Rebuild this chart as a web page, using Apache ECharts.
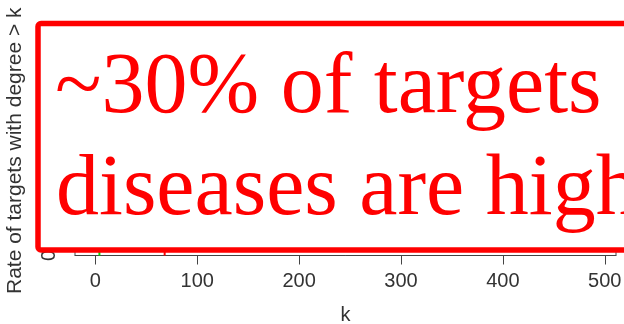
<!DOCTYPE html>
<html>
<head>
<meta charset="utf-8">
<script src="https://cdn.jsdelivr.net/npm/echarts@6/dist/echarts.min.js"></script>
<style>html,body{margin:0;padding:0;background:#fff}#c{width:624px;height:324px}</style>
</head>
<body>
<div id="c"></div>
<script>
// Data (estimated; most of the curves are hidden behind the overlay box)
var xTicks = [0, 100, 200, 300, 400, 500];
var greenK = [0, 1, 2, 3, 4, 4];
var greenRate = [1, 0.62, 0.41, 0.25, 0.25, 0];
var redK = [0, 5, 10, 20, 30, 45, 60, 68, 68];
var redRate = [1, 0.85, 0.7, 0.55, 0.42, 0.33, 0.3, 0.3, 0];
var overlayLines = ['~30% of targets', 'diseases are high'];
var yTitle = 'Rate of targets with degree > k';
var xTitle = 'k';

function pairs(a, b) { return a.map(function (v, i) { return [v, b[i]]; }); }

var chart = echarts.init(document.getElementById('c'), null, { renderer: 'canvas' });
chart.setOption({
  animation: false,
  backgroundColor: '#fff',
  grid: { left: 75, right: 8, top: 46, bottom: 68.5, show: true, borderColor: '#444', borderWidth: 1, backgroundColor: 'transparent', containLabel: false, outerBoundsMode: 'none' },
  xAxis: {
    type: 'value', min: -20, max: 511,
    name: xTitle, nameLocation: 'middle', nameGap: 50,
    nameTextStyle: { fontFamily: 'Liberation Sans', fontSize: 20, color: '#333' },
    axisLine: { show: true, onZero: false, lineStyle: { color: '#444', width: 1 } },
    axisTick: { show: true, customValues: xTicks, length: 9, lineStyle: { color: '#444' } },
    axisLabel: { customValues: xTicks, fontFamily: 'Liberation Sans', fontSize: 20, color: '#333', margin: 16 },
    splitLine: { show: false }
  },
  yAxis: {
    type: 'value', min: 0, max: 1, interval: 0.2,
    name: yTitle, nameLocation: 'middle', nameGap: 49,
    nameTextStyle: { fontFamily: 'Liberation Sans', fontSize: 21, color: '#333' },
    axisLine: { show: false, onZero: false }, axisTick: { show: false },
    axisLabel: { rotate: 90, fontFamily: 'Liberation Sans', fontSize: 20, color: '#333', margin: 16 },
    splitLine: { show: false }
  },
  series: [
    { type: 'line', data: pairs(greenK, greenRate), symbol: 'none', lineStyle: { color: '#00dd00', width: 2 } },
    { type: 'line', data: pairs(redK, redRate), symbol: 'none', lineStyle: { color: '#ff0000', width: 2 } }
  ],
  graphic: [
    { type: 'rect', z: 100, shape: { x: 38, y: 23.5, width: 620, height: 226.5, r: 3 },
      style: { fill: '#fff', stroke: '#ff0000', lineWidth: 5.5 } },
    { type: 'text', z: 101, x: 55, y: 89,
      style: { text: overlayLines[0], fill: '#ff0000', font: '86px "Liberation Serif"', textVerticalAlign: 'middle', verticalAlign: 'middle' } },
    { type: 'text', z: 101, x: 56, y: 191,
      style: { text: overlayLines[1], fill: '#ff0000', font: '86px "Liberation Serif"', textVerticalAlign: 'middle', verticalAlign: 'middle' } }
  ]
});
</script>
</body>
</html>
